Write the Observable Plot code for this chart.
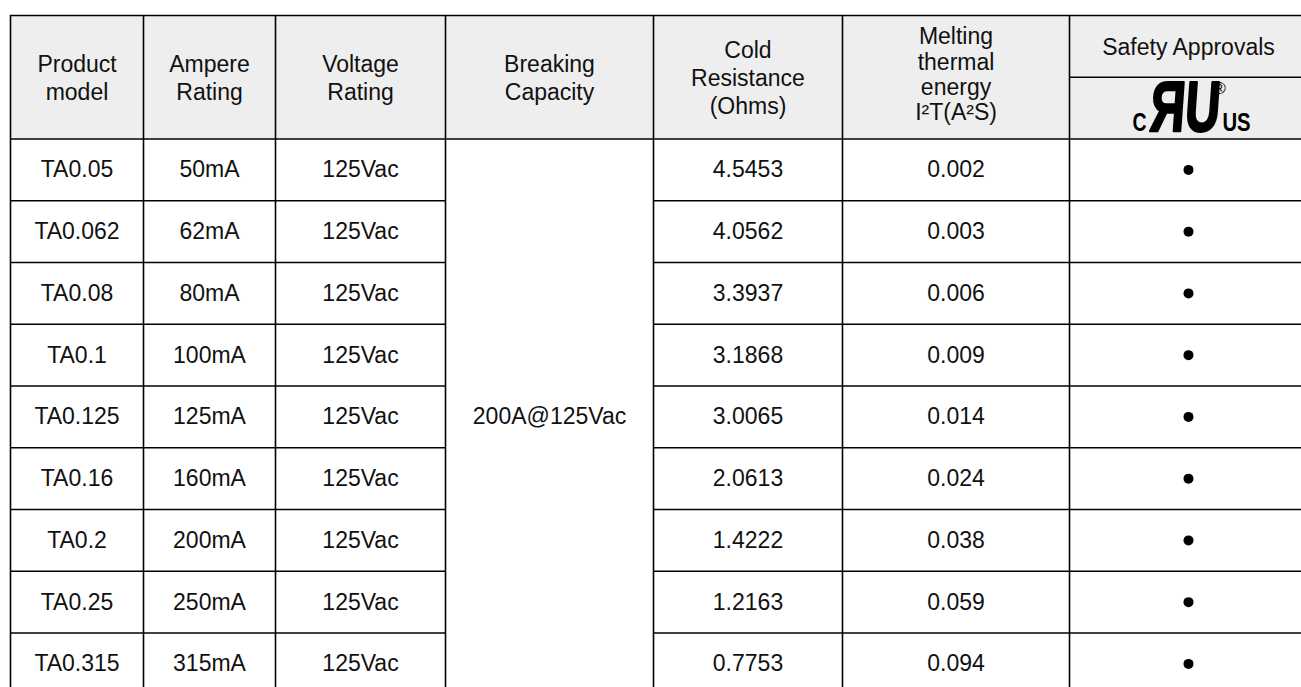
<!DOCTYPE html>
<html>
<head>
<meta charset="utf-8">
<script src="https://cdn.jsdelivr.net/npm/d3@7"></script>
<script src="https://cdn.jsdelivr.net/npm/@observablehq/plot@0.6"></script>
<style>
  html, body { margin: 0; padding: 0; background: #ffffff; }
  #chart svg { display: block; }
</style>
</head>
<body>
<div id="chart"></div>
<script>
// ---- data ----
const headers = ["Product\nmodel", "Ampere\nRating", "Voltage\nRating", "Breaking\nCapacity", "Cold\nResistance\n(Ohms)", "Melting\nthermal\nenergy\nI²T(A²S)", "Safety Approvals"];
const models = ["TA0.05", "TA0.062", "TA0.08", "TA0.1", "TA0.125", "TA0.16", "TA0.2", "TA0.25", "TA0.315"];
const amps = ["50mA", "62mA", "80mA", "100mA", "125mA", "160mA", "200mA", "250mA", "315mA"];
const volts = ["125Vac", "125Vac", "125Vac", "125Vac", "125Vac", "125Vac", "125Vac", "125Vac", "125Vac"];
const breaking = "200A@125Vac";
const coldResistance = [4.5453, 4.0562, 3.3937, 3.1868, 3.0065, 2.0613, 1.4222, 1.2163, 0.7753];
const meltingI2T = [0.002, 0.003, 0.006, 0.009, 0.014, 0.024, 0.038, 0.059, 0.094];
const ulApproved = [true, true, true, true, true, true, true, true, true];

// ---- layout ----
const W = 1301, H = 687;
const tableLeft = 10;
const colWidths = [133, 132, 170, 208, 189, 227, 238];
const edges = [tableLeft];
colWidths.forEach(w => edges.push(edges[edges.length - 1] + w));
const centers = colWidths.map((w, j) => edges[j] + w / 2);
const headerUnits = 2;
const nRows = models.length;
const totalUnits = headerUnits + nRows;
const mergedCol = 3;
const safetyCol = 6;

// horizontal lines
const hLines = [];
hLines.push({u: 0, x1: edges[0], x2: edges[7]});
hLines.push({u: 1, x1: edges[safetyCol], x2: edges[7]});
hLines.push({u: headerUnits, x1: edges[0], x2: edges[7]});
for (let i = 1; i < nRows; i++) {
  hLines.push({u: headerUnits + i, x1: edges[0], x2: edges[mergedCol]});
  hLines.push({u: headerUnits + i, x1: edges[mergedCol + 1], x2: edges[7]});
}
hLines.push({u: totalUnits, x1: edges[0], x2: edges[7]});
// vertical lines
const vLines = edges.map(x => ({x, y1: 0, y2: totalUnits}));

// header texts
const headerCells = headers.map((h, j) => ({x: centers[j], y: j === safetyCol ? 0.5 : 1, text: h}));
const normalHeaders = headerCells.filter((d, j) => j !== 5);
const meltHeader = [headerCells[5]];

// body cells
const cells = [];
for (let i = 0; i < nRows; i++) {
  const y = headerUnits + i + 0.5;
  cells.push({x: centers[0], y, text: models[i]});
  cells.push({x: centers[1], y, text: amps[i]});
  cells.push({x: centers[2], y, text: volts[i]});
  cells.push({x: centers[4], y, text: coldResistance[i].toFixed(4)});
  cells.push({x: centers[5], y, text: meltingI2T[i].toFixed(3)});
}
cells.push({x: centers[mergedCol], y: headerUnits + nRows / 2, text: breaking});
const dots = ulApproved.map((v, i) => ({x: centers[safetyCol], y: headerUnits + i + 0.5})).filter((d, i) => ulApproved[i]);
const logo = {x: centers[safetyCol], y: 1.5};

const font = "'Liberation Sans', Arial, Helvetica, sans-serif";
const fs = 23;

const plot = Plot.plot({
  width: W,
  height: H,
  margin: 0,
  x: {type: "linear", domain: [0, W], range: [0, W], axis: null},
  y: {type: "linear", domain: [0, totalUnits], range: [15, 15 + 61.75 * totalUnits], axis: null},
  style: {fontFamily: font, background: "#ffffff", color: "#111"},
  marks: [
    Plot.rect([{x1: edges[0], x2: edges[7], y1: 0, y2: headerUnits}], {x1: "x1", x2: "x2", y1: "y1", y2: "y2", fill: "#eeeeee"}),
    Plot.text(normalHeaders, {x: "x", y: "y", text: "text", fontSize: fs, lineHeight: 1.2, fill: "#111"}),
    Plot.text(meltHeader, {x: "x", y: "y", text: "text", fontSize: fs, lineHeight: 1.1, dy: -3, fill: "#111"}),
    Plot.text(cells, {x: "x", y: "y", text: "text", fontSize: fs, fill: "#111"}),
    Plot.dot(dots, {x: "x", y: "y", r: 5, fill: "#000", stroke: "none"}),
    // UL logo
    Plot.text([logo], {x: "x", y: "y", text: () => "ЯU", fontSize: 71, fontWeight: "bold", fill: "#000", stroke: "#000", strokeWidth: 2.5, dy: 0, dx: -3}),
    Plot.text([logo], {x: "x", y: "y", text: () => "C", fontSize: 26, fontWeight: "bold", fill: "#000", dy: 15, dx: -49}),
    Plot.text([logo], {x: "x", y: "y", text: () => "US", fontSize: 26, fontWeight: "bold", fill: "#000", dy: 15, dx: 48}),
    Plot.text([logo], {x: "x", y: "y", text: () => "®", fontSize: 17, fill: "#000", dy: -20, dx: 31}),
    Plot.ruleY(hLines, {y: "u", x1: "x1", x2: "x2", stroke: "#000", strokeWidth: 1.6}),
    Plot.ruleX(vLines, {x: "x", y1: "y1", y2: "y2", stroke: "#000", strokeWidth: 1.6})
  ]
});

// condense the logo lettering (scale about the anchor point)
const scales = {"ЯU": [0.68, -6], "C": [0.75, 0], "US": [0.78, 0]};
d3.select(plot).selectAll("text").each(function () {
  const t = this.textContent;
  if (!(t in scales)) return;
  const [s, skew] = scales[t];
  const tr = this.getAttribute("transform") || "";
  this.setAttribute("transform", `${tr} scale(${s},1) skewX(${skew})`);
});

document.getElementById("chart").appendChild(plot);
</script>
</body>
</html>
